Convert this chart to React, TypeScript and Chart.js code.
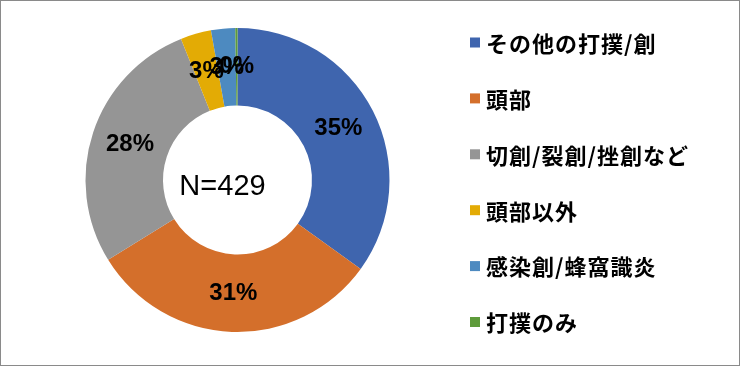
import React, { useEffect, useRef } from "react";
import { Chart, registerables } from "chart.js";

Chart.register(...registerables);

const categories = [
  "その他の打撲/創",
  "頭部",
  "切創/裂創/挫創など",
  "頭部以外",
  "感染創/蜂窩識炎",
  "打撲のみ",
];
const counts = [150, 134, 119, 14, 11, 1];
const colors = ["#3F65AE", "#D46F2B", "#959595", "#E3AB05", "#4D8AC0", "#5E9B3B"];
const centerLabel = "N=429";

const sliceLabelPlugin = {
  id: "sliceLabels",
  afterDatasetsDraw(chart: any) {
    const ctx = chart.ctx;
    const meta = chart.getDatasetMeta(0);
    const data = chart.data.datasets[0].data as number[];
    const total = data.reduce((a, b) => a + b, 0);
    ctx.save();
    ctx.font = "bold 24px 'Liberation Sans', Arial, sans-serif";
    ctx.fillStyle = "#000";
    ctx.textAlign = "center";
    ctx.textBaseline = "middle";
    meta.data.forEach((arc: any, i: number) => {
      const p = arc.getProps(["x", "y", "startAngle", "endAngle", "innerRadius", "outerRadius"], true);
      const mid = (p.startAngle + p.endAngle) / 2;
      const r = (p.innerRadius + p.outerRadius) / 2;
      const tx = p.x + Math.cos(mid) * r;
      const ty = p.y + Math.sin(mid) * r;
      ctx.fillText(Math.round((data[i] / total) * 100) + "%", tx, ty);
    });
    // center label
    const a0 = meta.data[0];
    ctx.font = "29px 'Liberation Sans', Arial, sans-serif";
    ctx.fillText(centerLabel, a0.x - 15, a0.y + 7);
    ctx.restore();
  },
};

const legendPlugin = {
  id: "customLegend",
  afterDraw(chart: any) {
    const ctx = chart.ctx;
    const labels = chart.data.labels as string[];
    const bg = chart.data.datasets[0].backgroundColor as string[];
    ctx.save();
    ctx.font = "bold 22px 'Noto Sans CJK JP', sans-serif";
    (ctx as any).letterSpacing = "1px";
    ctx.textBaseline = "middle";
    ctx.textAlign = "left";
    labels.forEach((lab, i) => {
      const y = 41.5 + i * 55.9;
      ctx.fillStyle = bg[i];
      ctx.fillRect(469, y - 5, 10, 10);
      ctx.fillStyle = "#000";
      ctx.fillText(lab, 485, y + 1);
    });
    ctx.restore();
  },
};

export default function App() {
  const ref = useRef<HTMLCanvasElement | null>(null);
  useEffect(() => {
    document.body.style.margin = "0";
    if (!ref.current) return;
    const chart = new Chart(ref.current, {
      type: "doughnut",
      data: {
        labels: categories,
        datasets: [
          {
            data: counts,
            backgroundColor: colors,
            borderWidth: 0,
          },
        ],
      },
      options: {
        responsive: false,
        animation: false,
        cutout: "49%",
        layout: { padding: { left: 84, right: 349, top: 27, bottom: 33 } },
        plugins: {
          legend: { display: false },
          tooltip: { enabled: false },
        },
      },
      plugins: [sliceLabelPlugin, legendPlugin],
    });
    return () => chart.destroy();
  }, []);
  return (
    <div
      style={{
        width: 740,
        height: 366,
        boxSizing: "border-box",
        border: "1px solid #8a8a8a",
        background: "#fff",
      }}
    >
      <canvas ref={ref} width={738} height={364} style={{ display: "block" }} />
    </div>
  );
}
